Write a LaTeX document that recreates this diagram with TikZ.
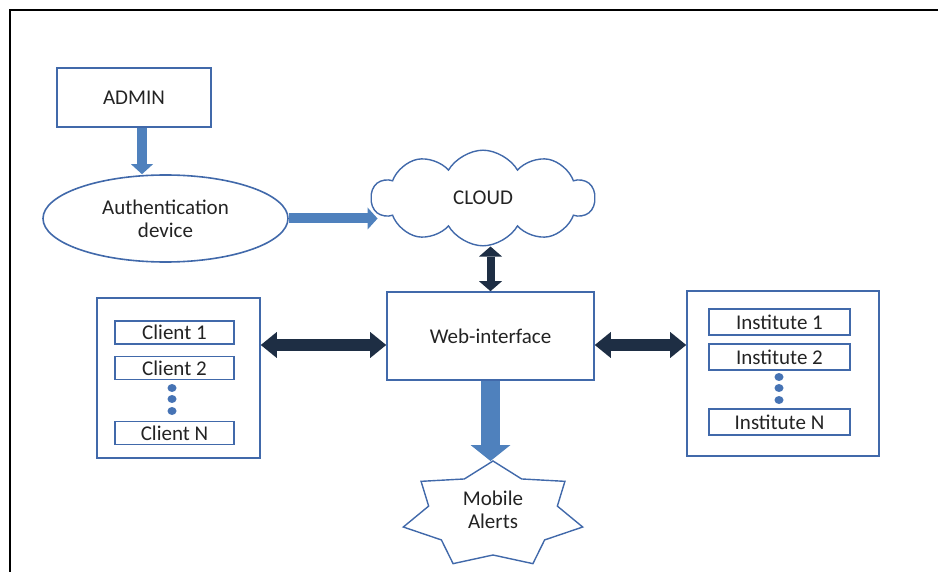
\documentclass[tikz,border=0pt]{standalone}
\usepackage{fontspec}
\setmainfont{Carlito}
\usepackage{tikz}
\usetikzlibrary{positioning, arrows.meta, shapes.geometric, shapes.symbols, calc}
\definecolor{boxBlue}{RGB}{65,105,170}
\definecolor{arrowBlue}{RGB}{79,129,189}
\definecolor{arrowNavy}{RGB}{30,46,68}
\definecolor{textGray}{RGB}{35,35,35}
\definecolor{dotBlue}{RGB}{70,115,180}

\begin{document}
\begin{tikzpicture}[
  x=1pt, y=-1pt,
  every node/.style={font=\fontsize{21}{23}\selectfont, text=textGray, align=center},
  box/.style={draw=boxBlue, line width=1.6pt, inner sep=0pt},
  item/.style={box, minimum height=23pt},
  feed/.style={draw=arrowBlue, line width=10pt,
    -{Triangle[width=22pt, length=10pt, line width=0pt]}},
  link/.style={draw=arrowNavy, line width=12pt,
    {Triangle[width=26pt, length=16pt, line width=0pt]}-{Triangle[width=26pt, length=16pt, line width=0pt]}},
  uplink/.style={draw=arrowNavy, line width=8pt,
    {Triangle[width=23pt, length=10pt, line width=0pt]}-{Triangle[width=23pt, length=10pt, line width=0pt]}},
]
  \useasboundingbox (0,0) rectangle (938,572);
  \draw[line width=2pt] (10,572) -- (10,10) -- (938,10);

  \node[box, minimum width=154pt, minimum height=59pt] (admin) at (134,97.5) {ADMIN};
  \node[ellipse, draw=boxBlue, line width=1.6pt, minimum width=245pt,
    minimum height=87pt, inner sep=0pt] (auth) at (165.5,218.5) {Authentication\\device};
  \node[cloud, draw=boxBlue, line width=1.4pt, cloud puffs=10, cloud puff arc=120,
    minimum width=223pt, minimum height=83pt, inner sep=0pt] (cloud) at (483,198) {CLOUD};
  \node[box, minimum width=207pt, minimum height=88pt] (web) at (490.5,336) {Web-interface};

  % clients
  \node[box, minimum width=163pt, minimum height=160pt] (clients) at (178.5,378) {};
  \node[item, minimum width=119pt] (client1) at (174.5,332.5) {Client 1};
  \node[item, minimum width=119pt] (client2) at (174.5,368) {Client 2};
  \node[item, minimum width=119pt] (clientN) at (174.5,433) {Client N};
  \foreach \y in {388,399,411}
    \fill[dotBlue] (172,\y) circle[x radius=4.5pt, y radius=4pt];

  % institutes
  \node[box, minimum width=192pt, minimum height=165pt] (institutes) at (783,373.5) {};
  \node[item, minimum width=141pt, minimum height=26pt] (inst1) at (779.5,322) {Institute 1};
  \node[item, minimum width=141pt, minimum height=26pt] (inst2) at (779.5,357) {Institute 2};
  \node[item, minimum width=141pt, minimum height=26pt] (instN) at (779.5,422) {Institute N};
  \foreach \y in {377,388,400}
    \fill[dotBlue] (779,\y) circle[x radius=4.5pt, y radius=4pt];

  % mobile alerts star
  \coordinate (starc) at (493,515);
  \coordinate (startop) at (493,461);
  \draw[draw=boxBlue, line width=1.4pt, fill=white, line join=miter]
    ($(starc)+(90:92pt and 54pt)$)
    \foreach \k [evaluate=\k as \rx using {92-26*mod(\k,2)},
                 evaluate=\k as \ry using {54-14*mod(\k,2)}] in {1,...,13} {
      -- ($(starc)+({90+\k*360/14}:\rx pt and \ry pt)$)
    } -- cycle;
  \node (alerts) at (493,510) {Mobile\\Alerts};

  % connectors
  \draw[feed] ([xshift=8pt]admin.south) -- ([xshift=8pt]admin.south |- auth.north);
  \draw[feed] (auth.east) -- ([xshift=7pt]auth.east -| cloud.west);
  \draw[uplink] (web.north |- cloud.south) -- (web.north);
  \draw[link] ([yshift=-9pt]web.west) -- ([yshift=-9pt]web.west -| clients.east);
  \draw[link] ([yshift=-9pt]web.east) -- ([yshift=-9pt]web.east -| institutes.west);
  \draw[draw=arrowBlue, line width=19pt,
    -{Triangle[width=40pt, length=16pt, line width=0pt]}] (web.south) -- (web.south |- startop);
\end{tikzpicture}
\end{document}
